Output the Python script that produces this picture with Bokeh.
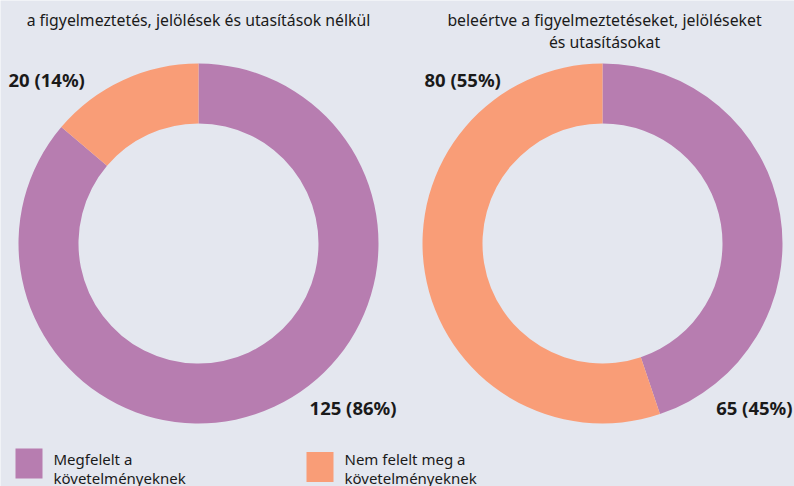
import math
from bokeh.plotting import figure
from bokeh.models import Range1d, ColumnDataSource
from bokeh.core.properties import value
from bokeh.embed import file_html
from bokeh.resources import INLINE

categories = ["Megfelelt a\nkövetelményeknek", "Nem felelt meg a\nkövetelményeknek"]
colors = ["#B77DB0", "#F99D77"]
left_values = [125, 20]
right_values = [65, 80]
left_title = "a figyelmeztetés, jelölések és utasítások nélkül"
right_title = "beleértve a figyelmeztetéseket, jelöléseket\nés utasításokat"

W, H = 794, 486
BG = "#E4E7EF"
FONT = "Noto Sans"
TXT = "#1a1a1a"

p = figure(width=W, height=H, output_backend="svg", toolbar_location=None,
           x_range=Range1d(0, W), y_range=Range1d(0, H),
           min_border=0, background_fill_color=BG, border_fill_color=BG)
p.axis.visible = False
p.grid.visible = False
p.outline_line_color = None

def Y(y):
    return H - y

def donut(cx, cy, vals):
    total = sum(vals)
    starts, ends = [], []
    acc = 0.0
    for v in vals:
        a0 = math.pi / 2 - 2 * math.pi * acc / total
        acc += v
        a1 = math.pi / 2 - 2 * math.pi * acc / total
        starts.append(a0)
        ends.append(a1)
    src = ColumnDataSource(dict(x=[cx] * len(vals), y=[cy] * len(vals),
                                s=starts, e=ends, c=colors[:len(vals)]))
    p.annular_wedge(x="x", y="y", inner_radius=120, outer_radius=180,
                    start_angle="s", end_angle="e", direction="clock",
                    fill_color="c", line_color=None, source=src)

def labels_text(vals):
    total = sum(vals)
    return ["%d (%d%%)" % (v, round(100 * v / total)) for v in vals]

def lines(x, y_top, txt, step, align, size):
    parts = txt.split("\n")
    p.text(x=[x] * len(parts), y=[Y(y_top + i * step) for i in range(len(parts))],
           text=parts, text_font=value(FONT), text_font_size=size, text_color=TXT,
           text_align=align, text_baseline="middle")

LBL = dict(text_font=value(FONT), text_font_size="18.5px", text_font_style="bold",
           text_color=TXT, text_baseline="middle")

# Left donut
donut(198, Y(243), left_values)
lt = labels_text(left_values)
p.text(x=[396, 8], y=[Y(407), Y(79)], text=lt, text_align=["right", "left"], **LBL)
lines(198, 19, left_title, 22, "center", "15.8px")

# Right donut
donut(602, Y(243), right_values)
rt = labels_text(right_values)
p.text(x=[792, 424], y=[Y(407), Y(79)], text=rt, text_align=["right", "left"], **LBL)
lines(604, 19, right_title, 22, "center", "15.8px")

# Legend
lx = [28.5, 319.5]
ly = [Y(463), Y(466.5)]
p.rect(x=lx, y=ly, width=27, height=30, fill_color=colors, line_color=None)
lines(53, 458, categories[0], 19, "left", "15px")
lines(344, 458, categories[1], 19, "left", "15px")

open("out.html", "w").write(file_html(p, INLINE))
